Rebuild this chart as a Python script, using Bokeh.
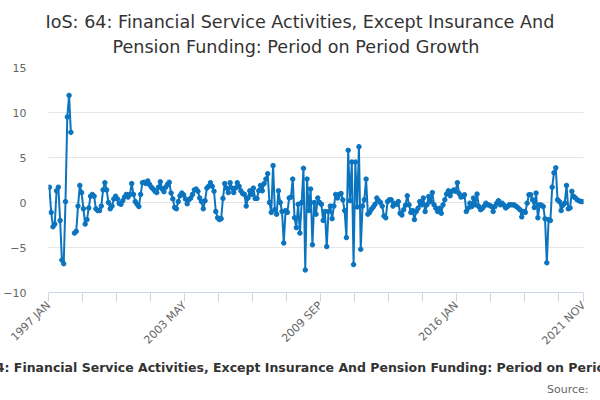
import math
from bokeh.plotting import figure
from bokeh.models import FixedTicker, ColumnDataSource, Range1d, Title
from bokeh.embed import file_html
from bokeh.resources import INLINE

MONTHS = ["JAN", "FEB", "MAR", "APR", "MAY", "JUN", "JUL", "AUG", "SEP", "OCT", "NOV", "DEC"]
N_PERIODS = 299
periods = [f"{1997 + k // 12} {MONTHS[k % 12]}" for k in range(N_PERIODS)]

NAN = float("nan")
growth = [
    1.7, -1.1, -2.7, -2.4, 1.3, 1.7, -2.0, -6.4, -6.8, 0.1, 9.5, 11.9, 7.8,
    NAN,
    -3.4, -3.2, -0.4, 1.9, 1.1, -0.7, -2.4, -1.9, -0.6, 0.7, 0.9, 0.7, -0.7, -0.9, -0.9, -0.4,
    1.4, 2.2, 1.4, 0.0, -0.7, -0.4, 0.4, 0.7, 0.4, -0.1, -0.2, 0.2, 0.6, 0.9, 0.6, 0.9, 2.1,
    0.9, 0.1, -0.2, -0.45, 0.9, 2.2, 2.25, 2.1, 2.4, 2.0, 1.7, 1.5, 1.25, 1.1, 1.7, 2.3, 1.5,
    1.2, 1.7, 2.0, 2.25, 1.05, 0.4, -0.55, -0.7, 0.1, 0.75, 1.05, 0.85, 0.4, -0.15, 0.3, 0.5,
    0.9, 1.4, 1.5, 1.25, 0.5, 0.1, -0.7, 0.2, 1.6, 1.8, 2.2, 1.8, 1.25, -1.0, -1.7, -1.9, -1.8,
    0.45, 2.1, 1.6, 1.1, 2.2, 1.6, 1.1, 1.6, 2.2, 1.8, 1.3, 1.0, 0.9, -0.4, 0.5, 1.3, 0.9, 1.6,
    0.45, 0.45, 1.3, 1.9, 1.3, 2.1, 2.6, 3.2, 0.0, -1.1, 4.1,
    -0.8, -1.3, 1.3, 0.0, -1.0, -4.5, -0.9, -1.1, 0.5, 0.6, 2.6, -1.7, -2.8, -0.2, -3.4, 0.0,
    3.8, -7.5, 2.6, -0.9, 1.5, -4.7, 0.0, -1.3, 0.5, 0.0, -0.2, -2.0, -1.0, -4.9, -1.0, -0.4,
    -1.8, -0.4, 0.9, 0.5, 0.9, 1.0, 0.3, -0.9, -3.9,
    5.8, 0.2, 4.5, -6.9, 4.5, -0.5, 6.2, -5.2, -0.4, 0.3, 2.6, -1.3, -1.1, -0.75, -0.5, -0.2,
    0.5, 0.2, 0.0, -0.4, -1.5, -1.7, 0.1, 0.3, 0.3, -0.4, -0.1, -0.2, 0.1, -1.2, -1.4, -0.8, -0.3,
    0.75, -0.26, -1.1, -0.9, -1.9, -1.0, -0.64, 0.1, -0.26, 0.5, -1.0, -0.26, 0.67, 0.1, 1.1,
    -0.26, -0.64, -1.0, -0.64, -1.2, -0.26, 0.3, 0.94, 1.3, 0.75, 1.24, 1.4, 1.24, 2.2, 1.0,
    0.6, 0.67, 0.86, -1.0, -0.64, -0.07, -0.45, 0.5, -0.26, 0.94, -0.45, -0.8, -0.64, -0.4,
    -0.07, -0.26,
    -0.3, -0.45, -1.0, -0.45, -0.07, 0.2, -0.26, -0.07, -0.3, -0.6, -0.45, -0.26, -0.26, -0.26,
    -0.3, -0.45, -0.6, -0.8, -1.6, -1.0, -1.1, -0.07, 0.86, 0.86, 0.3, -0.56, 1.05, -1.7, -0.26,
    -0.3, -0.45, -1.8, -6.7, -1.9, -2.0, 1.7, 3.3, 3.85, 0.3, 0.1, -0.9, -0.3, -0.07, 1.9, -0.7,
    -0.6, 1.24, 0.67, 0.5, 0.3, 0.2, 0.1, 0.1,
]

# ticks sit on category boundaries, every 19 periods, plus the end of the axis
tick_pos = [k - 0.5 for k in range(0, N_PERIODS, 19)] + [N_PERIODS - 0.5]
label_idx = [0, 76, 152, 228, N_PERIODS - 1]
y_ticks = [-10, -5, 0, 5, 10, 15]

TITLE_1 = "IoS: 64: Financial Service Activities, Except Insurance And"
TITLE_2 = "Pension Funding: Period on Period Growth"
SERIES_NAME = "IoS: 64: Financial Service Activities, Except Insurance And Pension Funding: Period on Period Growth"
SOURCE = "Source:"

BLUE = "#0b74bf"
FONT = "DejaVu Sans"

src = ColumnDataSource(dict(x=list(range(N_PERIODS)), y=growth, period=periods))

p = figure(width=600, height=400, output_backend="svg", toolbar_location=None,
           x_range=Range1d(-0.5, N_PERIODS - 0.5), y_range=Range1d(-10, 15),
           min_border_left=44, min_border_right=17, min_border_top=67, min_border_bottom=108)
p.title.visible = False
p.outline_line_color = None
p.background_fill_color = "white"
p.border_fill_color = "white"

xa = p.xaxis[0]
xa.ticker = FixedTicker(ticks=tick_pos)
overrides = {t: "" for t in tick_pos}
overrides[tick_pos[0]] = periods[label_idx[0]]
overrides[tick_pos[4]] = periods[label_idx[1]]
overrides[tick_pos[8]] = periods[label_idx[2]]
overrides[tick_pos[12]] = periods[label_idx[3]]
overrides[tick_pos[-1]] = periods[label_idx[4]]
xa.major_label_overrides = overrides
xa.major_label_orientation = math.pi / 4
xa.major_label_text_font = FONT
xa.major_label_text_font_size = "11px"
xa.major_label_text_color = "#666666"
xa.axis_line_color = "#ccd6eb"
xa.major_tick_line_color = "#ccd6eb"
xa.major_tick_out = 9
xa.major_tick_in = 0
xa.minor_tick_line_color = None
xa.major_label_standoff = 2

ya = p.yaxis[0]
ya.ticker = FixedTicker(ticks=y_ticks)
ya.axis_line_color = None
ya.major_tick_line_color = None
ya.minor_tick_line_color = None
ya.major_label_text_font = FONT
ya.major_label_text_font_size = "11px"
ya.major_label_text_color = "#666666"
ya.major_label_standoff = 16

p.xgrid.visible = False
p.ygrid.ticker = FixedTicker(ticks=y_ticks[1:])
p.ygrid.grid_line_color = "#e6e6e6"

p.line("x", "y", source=src, line_color=BLUE, line_width=2)
p.scatter("x", "y", source=src, size=4.5, fill_color=BLUE, line_color=BLUE)

def make_title(text, size, style, color, align, offset, standoff):
    return Title(text=text, align=align, offset=offset, text_font=FONT, text_font_size=size,
                 text_font_style=style, text_color=color, standoff=standoff)

# above: first added sits closest to the plot
p.add_layout(make_title(TITLE_2, "17.6px", "normal", "#333333", "left", 64, 21), "above")
p.add_layout(make_title(TITLE_1, "17.6px", "normal", "#333333", "left", -3, -14), "above")
# below: after the x axis
p.add_layout(make_title(SERIES_NAME, "12.5px", "bold", "#333333", "left", -93, 5), "below")
p.add_layout(make_title(SOURCE, "11px", "normal", "#666666", "right", -5, 6), "below")

open("out.html", "w").write(file_html(p, INLINE))
